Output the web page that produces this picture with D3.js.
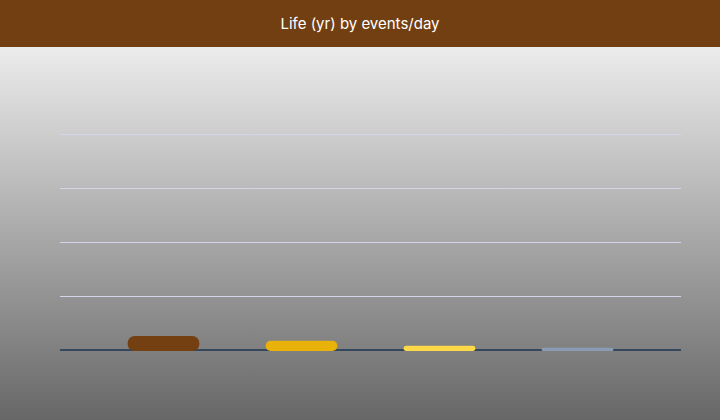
<!DOCTYPE html>
<html lang="en">
<head>
  <meta charset="UTF-8">
  <title>Life (yr) by events/day</title>
  <script src="https://cdn.jsdelivr.net/npm/d3@7"></script>
  <style>
    html, body { margin: 0; padding: 0; }
    body { width: 720px; height: 420px; overflow: hidden; }
    .title { font-family: Inter, "Noto Sans", sans-serif; font-size: 15px; fill: #fff; }
    .grid line { stroke: #d3d6ea; stroke-width: 1; }
    .grid path { display: none; }
  </style>
</head>
<body>
  <div id="chart"></div>
  <script>
    // data (no axis labels are shown)
    const categories = ['1/day', '2/day', '4/day', '8/day'];
    const lifeYears = [52, 34, 16, 8];
    const barColors = ['#744012', '#e8b20b', '#fdd94a', '#8b9bb6'];
    const gridTicks = [0, 200, 400, 600, 800];

    const width = 720, height = 420;
    const headerH = 47;
    const margin = { top: 80, right: 39, bottom: 70, left: 60 };

    const svg = d3.select('#chart')
      .append('svg')
      .attr('width', width)
      .attr('height', height);

    // background gradient
    const defs = svg.append('defs');
    const grad = defs.append('linearGradient')
      .attr('id', 'bg')
      .attr('x1', 0).attr('y1', 0).attr('x2', 0).attr('y2', 1);
    grad.append('stop').attr('offset', '0%').attr('stop-color', '#ececec');
    grad.append('stop').attr('offset', '100%').attr('stop-color', '#676767');

    svg.append('rect')
      .attr('x', 0).attr('y', headerH)
      .attr('width', width).attr('height', height - headerH)
      .attr('fill', 'url(#bg)');

    // header bar
    svg.append('rect')
      .attr('x', 0).attr('y', 0)
      .attr('width', width).attr('height', headerH)
      .attr('fill', '#713f12');

    svg.append('text')
      .attr('class', 'title')
      .attr('x', width / 2)
      .attr('y', 29)
      .attr('text-anchor', 'middle')
      .text('Life (yr) by events/day');

    const x = d3.scaleBand()
      .domain(categories)
      .range([margin.left, width - margin.right])
      .paddingInner(0.48)
      .paddingOuter(0.49);

    const y = d3.scaleLinear()
      .domain([0, 1000])
      .range([height - margin.bottom, margin.top]);

    // gridlines
    svg.append('g')
      .attr('class', 'grid')
      .attr('transform', 'translate(' + margin.left + ',0)')
      .call(d3.axisLeft(y)
        .tickValues(gridTicks.slice(1))
        .tickSize(-(width - margin.left - margin.right))
        .tickFormat(''));

    // baseline
    svg.append('line')
      .attr('x1', margin.left)
      .attr('x2', width - margin.right)
      .attr('y1', y(0))
      .attr('y2', y(0))
      .attr('stroke', '#34475c')
      .attr('stroke-width', 2);

    // bars (rounded pills sitting over the baseline)
    svg.append('g')
      .selectAll('rect')
      .data(lifeYears)
      .join('rect')
      .attr('x', (d, i) => x(categories[i]))
      .attr('y', d => y(d))
      .attr('width', x.bandwidth())
      .attr('height', d => y(0) - y(d) + 1)
      .attr('rx', d => Math.min(7, (y(0) - y(d) + 1) / 2))
      .attr('fill', (d, i) => barColors[i]);
  </script>
</body>
</html>
